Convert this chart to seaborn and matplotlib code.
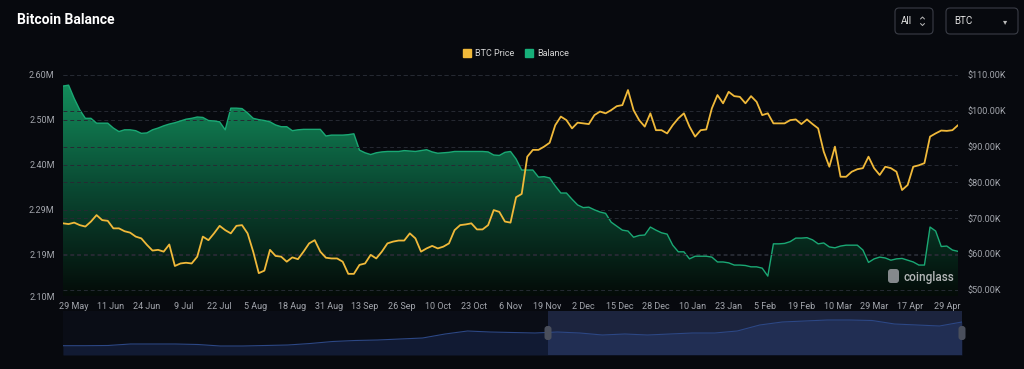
import matplotlib.pyplot as plt
import matplotlib.colors as mcolors
from matplotlib.patches import FancyBboxPatch, PathPatch, Rectangle
import numpy as np
import pandas as pd
import seaborn as sns

# exchange balance (M BTC), one reading every 2 category steps
balance = [2.575, 2.577, 2.547, 2.521, 2.502, 2.502, 2.491, 2.491, 2.491, 2.480,
           2.472, 2.476, 2.476, 2.474, 2.468, 2.469, 2.476, 2.480, 2.485, 2.489,
           2.492, 2.496, 2.500, 2.502, 2.505, 2.504, 2.497, 2.496, 2.494, 2.476,
           2.525, 2.525, 2.524, 2.514, 2.502, 2.499, 2.497, 2.494, 2.487, 2.483,
           2.483, 2.474, 2.476, 2.477, 2.477, 2.477, 2.477, 2.462, 2.464, 2.464,
           2.464, 2.465, 2.467, 2.430, 2.424, 2.420, 2.424, 2.426, 2.427, 2.427,
           2.427, 2.429, 2.428, 2.427, 2.429, 2.431, 2.426, 2.423, 2.424, 2.425,
           2.427, 2.427, 2.427, 2.427, 2.427, 2.427, 2.426, 2.419, 2.418, 2.425,
           2.427, 2.410, 2.385, 2.385, 2.385, 2.369, 2.370, 2.367, 2.349, 2.333,
           2.333, 2.319, 2.306, 2.300, 2.301, 2.295, 2.290, 2.287, 2.267, 2.258,
           2.249, 2.247, 2.233, 2.237, 2.238, 2.256, 2.249, 2.243, 2.240, 2.215,
           2.200, 2.200, 2.184, 2.190, 2.190, 2.190, 2.188, 2.177, 2.177, 2.175,
           2.170, 2.170, 2.169, 2.166, 2.166, 2.163, 2.145, 2.218, 2.218, 2.219,
           2.223, 2.231, 2.231, 2.232, 2.227, 2.218, 2.220, 2.211, 2.209, 2.213,
           2.215, 2.215, 2.215, 2.204, 2.176, 2.184, 2.188, 2.186, 2.181, 2.184,
           2.185, 2.181, 2.177, 2.170, 2.170, 2.256, 2.247, 2.212, 2.213, 2.204,
           2.201]

# BTC price (K USD), same days
price = [68.6, 68.4, 68.8, 68.1, 67.7, 69.1, 70.9, 69.5, 69.3, 67.2,
         67.2, 66.4, 66.0, 64.9, 64.4, 62.6, 61.0, 61.2, 60.7, 62.7,
         56.7, 57.4, 57.6, 57.4, 59.3, 64.9, 63.9, 65.8, 67.9, 66.7,
         65.8, 67.9, 68.1, 65.8, 60.7, 54.7, 55.4, 61.2, 59.5, 59.3,
         57.9, 59.1, 58.6, 60.7, 63.0, 63.9, 60.7, 59.0, 58.8, 58.8,
         57.9, 54.5, 54.5, 57.0, 57.4, 59.8, 58.8, 60.7, 63.0, 63.5,
         63.8, 63.8, 65.8, 64.4, 60.7, 61.6, 62.3, 61.6, 62.1, 63.0,
         66.7, 68.1, 68.3, 68.6, 66.9, 66.9, 68.1, 72.3, 71.8, 69.1,
         68.8, 75.9, 76.8, 87.2, 89.1, 89.1, 90.0, 91.1, 96.0, 98.4,
         97.4, 95.1, 96.7, 96.5, 96.3, 98.8, 99.8, 99.3, 100.2, 101.3,
         101.6, 105.8, 100.2, 97.4, 95.6, 99.3, 94.6, 94.6, 93.7, 96.0,
         97.9, 99.3, 95.6, 92.8, 94.6, 94.8, 100.7, 104.4, 102.1, 105.3,
         104.1, 103.9, 102.1, 104.1, 102.5, 98.8, 99.3, 96.5, 96.5, 96.5,
         97.4, 97.6, 96.3, 97.6, 96.3, 95.1, 88.6, 84.4, 90.0, 81.6,
         81.6, 83.0, 83.7, 84.0, 87.2, 84.0, 82.1, 84.4, 84.0, 83.0,
         77.9, 79.3, 84.4, 84.8, 85.4, 92.8, 93.7, 94.5, 94.4, 94.6,
         96.0]

day = list(range(0, 321, 2))

tick_labels = ['29 May', '11 Jun', '24 Jun', '9 Jul', '22 Jul', '5 Aug', '18 Aug',
               '31 Aug', '13 Sep', '26 Sep', '10 Oct', '23 Oct', '6 Nov', '19 Nov',
               '2 Dec', '15 Dec', '28 Dec', '10 Jan', '23 Jan', '5 Feb', '19 Feb',
               '10 Mar', '29 Mar', '17 Apr', '29 Apr']
tick_days = [4 + 13 * k for k in range(len(tick_labels))]

left_ticks = [2.10, 2.1928, 2.2946, 2.3964, 2.4982, 2.60]
left_labels = ['2.10M', '2.19M', '2.29M', '2.40M', '2.50M', '2.60M']
right_ticks = [50, 60, 70, 80, 90, 100, 110]
right_labels = ['$%d.00K' % v for v in right_ticks]

# overview slider series (relative height)
slider_vals = [9.3, 9.3, 9.5, 11, 11, 11, 10.5, 9, 9, 9.5,
               10, 11.5, 13.5, 14.5, 15, 16, 17, 21, 24, 23,
               22.5, 22, 23, 22, 20, 21, 20, 21, 22, 22,
               24, 30, 33, 34, 35, 35, 34.5, 31, 30, 29, 33]

df = pd.DataFrame({'day': day, 'balance': balance, 'price': price})
sl = pd.DataFrame({'pos': range(len(slider_vals)), 'val': slider_vals})

bg = '#07090e'
grid_c = '#262a33'
txt_c = '#a3a6ad'

sns.set_theme(style='dark')
plt.rcParams['font.family'] = ['Roboto', 'DejaVu Sans']

W, H = 1024, 369
fig = plt.figure(figsize=(10.24, 3.69), dpi=100, facecolor=bg)

# main chart
ax = fig.add_axes([63 / W, 1 - 296 / H, (958 - 63) / W, (296 - 75) / H])
ax.set_facecolor(bg)
ax.set_xlim(0, 320)
ax.set_ylim(2.10, 2.60)

area = ax.fill_between(df['day'], df['balance'], 2.10, color='none', lw=0)
clip = PathPatch(area.get_paths()[0], transform=ax.transData, fc='none', ec='none')
ax.add_patch(clip)
green = mcolors.LinearSegmentedColormap.from_list('g', ['#040b08', '#0a4a33', '#14935f'])
grad = np.linspace(0, 1, 256).reshape(-1, 1)
im = ax.imshow(grad, cmap=green, origin='lower', aspect='auto',
               extent=[0, 320, 2.10, 2.60], zorder=0)
im.set_clip_path(clip)
sns.lineplot(data=df, x='day', y='balance', ax=ax, color='#1aa874', lw=1.0)

ax.set_yticks(left_ticks)
ax.set_yticklabels(left_labels)
ax.set_xticks(tick_days)
ax.set_xticklabels(tick_labels)
ax.set_axisbelow('line')
ax.yaxis.grid(True, color=grid_c, lw=0.7, ls=(0, (4, 3)))
ax.xaxis.grid(False)
ax.tick_params(axis='both', length=0, colors=txt_c, labelsize=6.5)
ax.tick_params(axis='y', pad=6)
ax.tick_params(axis='x', pad=4)
ax.set_xlabel('')
ax.set_ylabel('')
for s in ax.spines.values():
    s.set_visible(False)

ax2 = ax.twinx()
sns.lineplot(data=df, x='day', y='price', ax=ax2, color='#f0b93a', lw=1.3)
ax2.set_ylim(48.32, 110)
ax2.set_yticks(right_ticks)
ax2.set_yticklabels(right_labels)
ax2.yaxis.grid(True, color=grid_c, lw=0.7, ls=(0, (4, 3)))
ax2.tick_params(axis='y', length=0, colors=txt_c, labelsize=6.5, pad=7)
ax2.set_ylabel('')
for s in ax2.spines.values():
    s.set_visible(False)

# overview slider
axs = fig.add_axes([63 / W, 1 - 355 / H, (962 - 63) / W, (355 - 311) / H])
axs.set_facecolor('#0a0d16')
axs.set_xlim(0, 40)
axs.set_ylim(0, 44)
axs.fill_between(sl['pos'], sl['val'], 0, color='#111a33', lw=0)
sns.lineplot(data=sl, x='pos', y='val', ax=axs, color='#2c4785', lw=0.8)
sel0 = (548 - 63) / (962 - 63) * 40
axs.axvspan(sel0, 40, color='#4d63a8', alpha=0.28, lw=0)
axs.set_xticks([])
axs.set_yticks([])
axs.set_xlabel('')
axs.set_ylabel('')
axs.grid(False)
for s in axs.spines.values():
    s.set_visible(False)

# overlay in pixel units for the page furniture
ui = fig.add_axes([0, 0, 1, 1])
ui.set_xlim(0, W)
ui.set_ylim(H, 0)
ui.axis('off')
ui.patch.set_alpha(0)

ui.text(17, 20, 'Bitcoin Balance', color='white', fontsize=10, fontweight='bold', va='center')

for x0, x1 in [(895, 933), (946, 1018)]:
    ui.add_patch(FancyBboxPatch((x0, 8), x1 - x0, 26, boxstyle='round,pad=0,rounding_size=4',
                                fc='none', ec='#3a3d46', lw=0.8))
ui.text(901, 21.5, 'All', color='#e2e2e2', fontsize=7, va='center')
ui.plot([920.5, 922.5, 924.5], [19, 17, 19], color='#bbbbbb', lw=0.7)
ui.plot([920.5, 922.5, 924.5], [23.5, 25.5, 23.5], color='#bbbbbb', lw=0.7)
ui.text(954, 21.5, 'BTC', color='#e2e2e2', fontsize=7, va='center')
ui.text(1005, 21.5, '\u25be', color='#bbbbbb', fontsize=6, va='center', ha='center',
        family='DejaVu Sans')

# legend
ui.add_patch(Rectangle((463, 49), 8, 8, color='#f0b93a'))
ui.text(475, 53.5, 'BTC Price', color='#d5d5d5', fontsize=6.5, va='center')
ui.add_patch(Rectangle((525, 49), 8, 8, color='#17b07a'))
ui.text(537, 53.5, 'Balance', color='#d5d5d5', fontsize=6.5, va='center')

# watermark
ui.add_patch(FancyBboxPatch((888, 269), 11, 14, boxstyle='round,pad=0,rounding_size=3',
                            fc='#9c9ea3', ec='none', alpha=0.85))
ui.text(903, 277, 'coinglass', color='#c9cacc', fontsize=8.5, fontweight='medium',
        va='center', alpha=0.9)

# slider handles
for hx in [548, 962]:
    ui.add_patch(FancyBboxPatch((hx - 3.5, 326), 7, 14, boxstyle='round,pad=0,rounding_size=3',
                                fc='#4a4f5c', ec='none'))

fig.savefig('out.png', dpi=100, facecolor=bg)
